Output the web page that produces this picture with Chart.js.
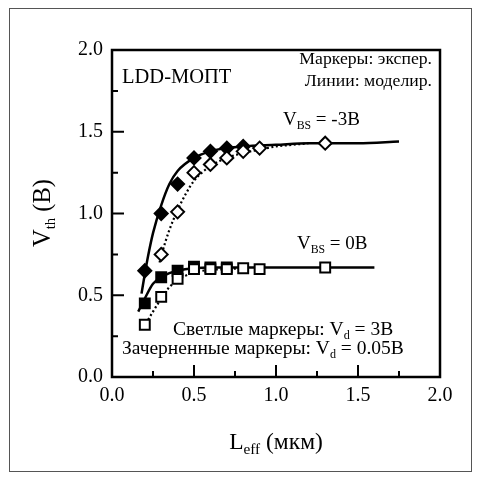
<!DOCTYPE html>
<html>
<head>
<meta charset="utf-8">
<script src="https://cdn.jsdelivr.net/npm/chart.js@4.4.1/dist/chart.umd.min.js"></script>
<style>
  html, body { margin: 0; padding: 0; background: #fff; }
  #wrap { position: relative; width: 480px; height: 482px; }
</style>
</head>
<body>
<div id="wrap"><canvas id="c" width="480" height="482"></canvas></div>
<script>
// Threshold voltage vs effective channel length, LDD MOSFET
// Experimental points
const lOpenDiamond = [0.3, 0.4, 0.5, 0.6, 0.7, 0.8, 0.9, 1.3];
const vthOpenDiamond = [0.75, 1.01, 1.25, 1.30, 1.34, 1.38, 1.40, 1.43];

const lFilledDiamond = [0.2, 0.3, 0.4, 0.5, 0.6, 0.7, 0.8];
const vthFilledDiamond = [0.65, 1.00, 1.18, 1.34, 1.38, 1.40, 1.41];

const lOpenSquare = [0.2, 0.3, 0.4, 0.5, 0.6, 0.7, 0.8, 0.9, 1.3];
const vthOpenSquare = [0.32, 0.49, 0.60, 0.66, 0.66, 0.66, 0.665, 0.66, 0.67];

const lFilledSquare = [0.2, 0.3, 0.4, 0.5, 0.6, 0.7];
const vthFilledSquare = [0.45, 0.61, 0.65, 0.675, 0.67, 0.67];

// Simulated curves
const lModelBs3Low = [0.18, 0.2, 0.22, 0.25, 0.3, 0.35, 0.4, 0.5, 0.6, 0.7, 0.8, 1.0, 1.2, 1.5, 1.75];
const vthModelBs3Low = [0.51, 0.63, 0.74, 0.88, 1.05, 1.18, 1.26, 1.34, 1.38, 1.40, 1.41, 1.42, 1.43, 1.43, 1.44];

const lModelBs3High = [0.29, 0.3, 0.35, 0.4, 0.45, 0.5, 0.6, 0.7, 0.8, 0.9, 1.0, 1.1, 1.2];
const vthModelBs3High = [0.70, 0.74, 0.90, 1.02, 1.12, 1.20, 1.29, 1.34, 1.37, 1.39, 1.41, 1.42, 1.43];

const lModelBs0Low = [0.16, 0.2, 0.25, 0.3, 0.35, 0.4, 0.5, 0.6, 0.8, 1.0, 1.3, 1.6];
const vthModelBs0Low = [0.40, 0.48, 0.57, 0.61, 0.635, 0.65, 0.665, 0.67, 0.67, 0.67, 0.67, 0.67];

const lModelBs0High = [0.22, 0.25, 0.3, 0.35, 0.4, 0.45, 0.5, 0.6, 0.7, 0.8];
const vthModelBs0High = [0.35, 0.40, 0.48, 0.55, 0.59, 0.62, 0.64, 0.655, 0.66, 0.665];

const xTicks = [0, 0.5, 1.0, 1.5, 2.0];
const yTicks = [0, 0.5, 1.0, 1.5, 2.0];

const SERIF = '"Liberation Serif", "DejaVu Serif", serif';

function pts(xs, ys) { return xs.map((x, i) => ({ x: x, y: ys[i] })); }

function markerSet(xs, ys, style, filled, r) {
  return {
    data: pts(xs, ys), showLine: false, pointStyle: style, pointRadius: r,
    pointBorderWidth: 2, pointBorderColor: '#000',
    pointBackgroundColor: filled ? '#000' : '#fff'
  };
}
function curveSet(xs, ys, dashed) {
  return {
    data: pts(xs, ys), showLine: true, pointRadius: 0, borderColor: '#000',
    borderWidth: dashed ? 2.2 : 2.5, borderDash: dashed ? [2, 2.5] : [],
    cubicInterpolationMode: 'monotone', fill: false
  };
}

// draws text pieces, some of them as subscripts
function drawRich(ctx, parts, x, y, size, align, subRatio) {
  const subSize = size * (subRatio || 0.62);
  let total = 0;
  const widths = parts.map(p => {
    ctx.font = (p[1] ? subSize : size) + 'px ' + SERIF;
    const w = ctx.measureText(p[0]).width;
    total += w;
    return w;
  });
  let cx = align === 'right' ? x - total : align === 'center' ? x - total / 2 : x;
  ctx.textAlign = 'left';
  ctx.textBaseline = 'alphabetic';
  parts.forEach((p, i) => {
    ctx.font = (p[1] ? subSize : size) + 'px ' + SERIF;
    ctx.fillText(p[0], cx, p[1] ? y + size * 0.22 : y);
    cx += widths[i];
  });
}

const decor = {
  id: 'decor',
  afterDraw(chart) {
    const ctx = chart.ctx;
    const a = chart.chartArea;
    const xs = chart.scales.x, ys = chart.scales.y;
    ctx.save();
    // outer frame
    ctx.strokeStyle = '#555';
    ctx.lineWidth = 1;
    ctx.strokeRect(9.5, 8.5, 462, 463);
    // plot box
    ctx.strokeStyle = '#000';
    ctx.lineWidth = 2.5;
    ctx.strokeRect(a.left, a.top, a.right - a.left, a.bottom - a.top);
    // inward ticks, major every 0.5 and minor between
    ctx.lineWidth = 2;
    ctx.beginPath();
    for (let v = 0.25; v < 2; v += 0.25) {
      const major = Math.abs(v / 0.5 - Math.round(v / 0.5)) < 1e-6;
      const len = major ? 12 : 6;
      const px = xs.getPixelForValue(v);
      ctx.moveTo(px, a.bottom); ctx.lineTo(px, a.bottom - len);
      const py = ys.getPixelForValue(v);
      ctx.moveTo(a.left, py); ctx.lineTo(a.left + len, py);
    }
    ctx.stroke();

    ctx.fillStyle = '#000';
    drawRich(ctx, [['LDD-МОПТ', false]], 122, 83, 20.5, 'left');
    drawRich(ctx, [['Маркеры: экспер.', false]], 432, 64, 17.7, 'right');
    drawRich(ctx, [['Линии: моделир.', false]], 432, 86, 17.7, 'right');
    drawRich(ctx, [['V', false], ['BS', true], [' = -3В', false]], 283, 125, 19, 'left');
    drawRich(ctx, [['V', false], ['BS', true], [' = 0В', false]], 297, 249, 19, 'left');
    drawRich(ctx, [['Светлые маркеры: V', false], ['d', true], [' = 3В', false]], 173, 335, 19.5, 'left');
    drawRich(ctx, [['Зачерненные маркеры: V', false], ['d', true], [' = 0.05В', false]], 122, 354, 19.5, 'left');

    // axis titles
    drawRich(ctx, [['L', false], ['eff', true], [' (мкм)', false]], (a.left + a.right) / 2, 449, 23.5, 'center', 0.65);
    ctx.translate(50, 213);
    ctx.rotate(-Math.PI / 2);
    drawRich(ctx, [['V', false], ['th', true], [' (В)', false]], 0, 0, 24.5, 'center', 0.6);
    ctx.restore();
  }
};

new Chart(document.getElementById('c'), {
  type: 'scatter',
  data: {
    datasets: [
      markerSet(lOpenDiamond, vthOpenDiamond, 'rectRot', false, 6.5),
      markerSet(lFilledDiamond, vthFilledDiamond, 'rectRot', true, 6.5),
      markerSet(lOpenSquare, vthOpenSquare, 'rect', false, 7),
      markerSet(lFilledSquare, vthFilledSquare, 'rect', true, 7),
      curveSet(lModelBs3Low, vthModelBs3Low, false),
      curveSet(lModelBs3High, vthModelBs3High, true),
      curveSet(lModelBs0Low, vthModelBs0Low, false),
      curveSet(lModelBs0High, vthModelBs0High, true)
    ]
  },
  options: {
    responsive: false,
    animation: false,
    layout: { padding: { left: 0, top: 50, right: 40, bottom: 0 } },
    plugins: { legend: { display: false }, tooltip: { enabled: false } },
    scales: {
      x: {
        type: 'linear', min: 0, max: 2,
        afterFit(s) { s.height = 105; },
        afterBuildTicks(s) { s.ticks = xTicks.map(v => ({ value: v })); },
        grid: { display: false, drawTicks: false },
        border: { display: false },
        ticks: { padding: 7, color: '#000', font: { family: SERIF, size: 20 },
                 maxRotation: 0, callback: v => v.toFixed(1) }
      },
      y: {
        type: 'linear', min: 0, max: 2,
        afterFit(s) { s.width = 112; },
        afterBuildTicks(s) { s.ticks = yTicks.map(v => ({ value: v })); },
        grid: { display: false, drawTicks: false },
        border: { display: false },
        ticks: { padding: 9, color: '#000', font: { family: SERIF, size: 20 },
                 callback: v => v.toFixed(1) }
      }
    }
  },
  plugins: [decor]
});
</script>
</body>
</html>
